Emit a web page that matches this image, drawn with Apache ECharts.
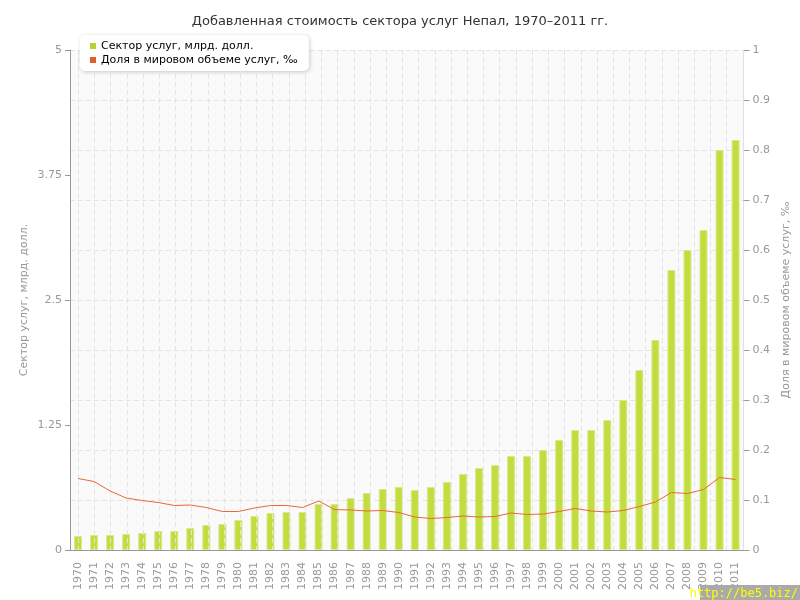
<!DOCTYPE html>
<html>
<head>
<meta charset="utf-8">
<script src="https://cdn.jsdelivr.net/npm/echarts@6/dist/echarts.min.js"></script>
<style>html,body{margin:0;padding:0;background:#fff}#c{width:800px;height:600px}</style>
</head>
<body>
<div id="c"></div>
<script>
const years = ['1970','1971','1972','1973','1974','1975','1976','1977','1978','1979','1980','1981','1982','1983','1984','1985','1986','1987','1988','1989','1990','1991','1992','1993','1994','1995','1996','1997','1998','1999','2000','2001','2002','2003','2004','2005','2006','2007','2008','2009','2010','2011'];
const servicesBn = [0.14,0.15,0.15,0.16,0.17,0.19,0.19,0.22,0.25,0.26,0.30,0.34,0.37,0.38,0.38,0.46,0.46,0.52,0.57,0.61,0.63,0.60,0.63,0.68,0.76,0.82,0.85,0.94,0.94,1.00,1.10,1.20,1.20,1.30,1.50,1.80,2.10,2.80,3.00,3.20,4.00,4.10];
const worldShare = [0.143,0.137,0.118,0.104,0.099,0.095,0.089,0.090,0.085,0.077,0.077,0.084,0.089,0.089,0.085,0.098,0.081,0.080,0.078,0.079,0.075,0.066,0.063,0.065,0.068,0.066,0.067,0.074,0.071,0.072,0.077,0.083,0.078,0.076,0.079,0.087,0.096,0.115,0.113,0.121,0.145,0.141];
const leftTicks = [0, 1.25, 2.5, 3.75, 5];
const rightTicks = [0,0.1,0.2,0.3,0.4,0.5,0.6,0.7,0.8,0.9,1];
const seriesNames = ['Сектор услуг, млрд. долл.', 'Доля в мировом объеме услуг, ‰'];

const FONT = 'DejaVu Sans';
const chart = echarts.init(document.getElementById('c'), null, {renderer: 'canvas'});
const gridTop = 50, gridBottom = 50, gridLeft = 70, gridRight = 49;
const catW = (800 - gridLeft - gridRight) / years.length;

chart.setOption({
  backgroundColor: '#fff',
  animation: false,
  title: {
    text: 'Добавленная стоимость сектора услуг Непал, 1970–2011 гг.',
    left: 'center', top: 10,
    textStyle: {fontFamily: FONT, fontSize: 13, fontWeight: 'normal', color: '#333'}
  },
  legend: {
    orient: 'vertical', left: 80, top: 35,
    padding: [5, 11, 5, 10],
    backgroundColor: '#fff', borderRadius: 5,
    shadowBlur: 4, shadowColor: 'rgba(0,0,0,0.2)', shadowOffsetX: 1, shadowOffsetY: 1,
    itemWidth: 6, itemHeight: 6, itemGap: 2, icon: 'rect',
    textStyle: {fontFamily: FONT, fontSize: 11, color: '#000', lineHeight: 12},
    data: [
      {name: seriesNames[0], itemStyle: {color: '#b5d334', borderWidth: 0}},
      {name: seriesNames[1], itemStyle: {color: '#e0602c'}}
    ]
  },
  grid: [
    {left: gridLeft, right: gridRight, top: gridTop, bottom: gridBottom, show: true, backgroundColor: '#fafafa', borderWidth: 0},
    {left: gridLeft + catW / 2, right: gridRight + catW / 2, top: gridTop, bottom: gridBottom, show: false}
  ],
  xAxis: [
    {
      type: 'category', gridIndex: 0, data: years, boundaryGap: true,
      axisLine: {lineStyle: {color: '#999'}},
      axisTick: {alignWithLabel: true, length: 5, lineStyle: {color: '#999'}},
      axisLabel: {rotate: 90, margin: 12, interval: 0, color: '#999', fontFamily: FONT, fontSize: 11},
      splitLine: {show: false}
    },
    {
      type: 'category', gridIndex: 1, data: years, boundaryGap: false, z: 3,
      axisLine: {show: false}, axisTick: {show: false}, axisLabel: {show: false},
      splitLine: {show: true, interval: 0, lineStyle: {color: '#e4e4e4', type: [5, 3], width: 1}}
    }
  ],
  yAxis: [
    {
      type: 'value', gridIndex: 0, min: leftTicks[0], max: leftTicks[leftTicks.length - 1], interval: 1.25,
      name: seriesNames[0], nameLocation: 'middle', nameRotate: 90, nameGap: 40, nameMoveOverlap: false,
      nameTextStyle: {color: '#999', fontFamily: FONT, fontSize: 11},
      axisLine: {show: true, lineStyle: {color: '#999'}},
      axisTick: {show: true, length: 5, lineStyle: {color: '#999'}},
      axisLabel: {color: '#999', fontFamily: FONT, fontSize: 11, margin: 8},
      splitLine: {show: false}
    },
    {
      type: 'value', gridIndex: 0, position: 'right', min: rightTicks[0], max: rightTicks[rightTicks.length - 1], interval: 0.1,
      name: seriesNames[1], nameLocation: 'middle', nameRotate: 90, nameGap: 33,
      nameTextStyle: {color: '#999', fontFamily: FONT, fontSize: 11},
      axisLine: {show: true, lineStyle: {color: '#dcdcdc'}},
      axisTick: {show: true, length: 6, lineStyle: {color: '#999'}},
      axisLabel: {color: '#999', fontFamily: FONT, fontSize: 11, margin: 9},
      splitLine: {show: true, lineStyle: {color: '#e4e4e4', type: [5, 3]}}
    },
    {type: 'value', gridIndex: 1, show: false, splitLine: {show: false}}
  ],
  series: [
    {
      name: seriesNames[0], type: 'bar', xAxisIndex: 0, yAxisIndex: 0, data: servicesBn,
      barWidth: 8, z: 2,
      itemStyle: {color: '#c2dd3e', borderColor: '#d8ea8e', borderWidth: 1}
    },
    {
      name: seriesNames[1], type: 'line', xAxisIndex: 0, yAxisIndex: 1, data: worldShare,
      symbol: 'none', z: 5,
      lineStyle: {color: '#e8683c', width: 1},
      itemStyle: {color: '#e0602c'}
    }
  ],
  graphic: [
    {type: 'rect', right: 0, bottom: 0, shape: {width: 100, height: 15}, style: {fill: '#aaaaaa'}, z: 10},
    {type: 'text', right: 2, bottom: 0, style: {text: 'http://be5.biz/', fill: '#ffff00', font: '12px "DejaVu Sans Mono"'}, z: 11}
  ]
});
</script>
</body>
</html>
